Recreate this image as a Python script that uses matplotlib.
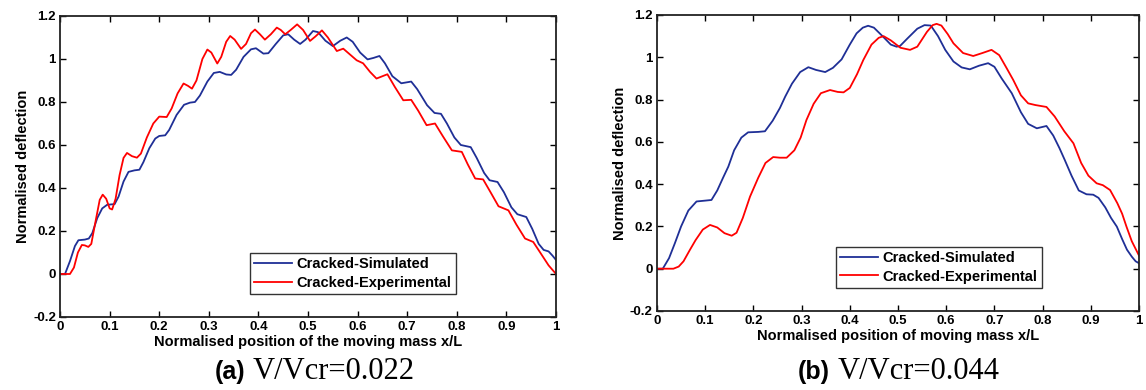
## Normalised deflection of a cracked beam under a moving mass
# Two panels: (a) V/Vcr=0.022 and (b) V/Vcr=0.044, simulated vs experimental

import matplotlib.pyplot as plt
from matplotlib.ticker import MultipleLocator, FuncFormatter

plt.rcParams['font.family'] = ['Liberation Sans', 'DejaVu Sans']

# Panel (a) V/Vcr=0.022
a_sim_x = [0.0, 0.01, 0.02, 0.03, 0.037, 0.05, 0.058, 0.065, 0.075, 0.085, 0.095, 0.11, 0.118, 0.128,
           0.138, 0.15, 0.16, 0.168, 0.18, 0.192, 0.2, 0.212, 0.22, 0.235, 0.25, 0.262, 0.272, 0.282,
           0.297, 0.31, 0.322, 0.335, 0.345, 0.355, 0.37, 0.385, 0.395, 0.41, 0.42, 0.435, 0.45, 0.46,
           0.472, 0.484, 0.495, 0.51, 0.52, 0.535, 0.55, 0.565, 0.578, 0.59, 0.605, 0.62, 0.632, 0.644,
           0.655, 0.67, 0.688, 0.708, 0.72, 0.74, 0.755, 0.768, 0.78, 0.795, 0.808, 0.828, 0.84, 0.855,
           0.866, 0.882, 0.895, 0.91, 0.922, 0.94, 0.952, 0.965, 0.975, 0.985, 0.993, 1.0]
a_sim_y = [0.0, 0.0, 0.06, 0.13, 0.157, 0.16, 0.165, 0.19, 0.26, 0.305, 0.322, 0.325, 0.36, 0.43,
           0.475, 0.482, 0.485, 0.52, 0.585, 0.63, 0.642, 0.645, 0.67, 0.74, 0.787, 0.797, 0.8, 0.83,
           0.895, 0.935, 0.94, 0.928, 0.926, 0.95, 1.01, 1.045, 1.05, 1.025, 1.027, 1.07, 1.11, 1.115,
           1.09, 1.07, 1.09, 1.13, 1.125, 1.085, 1.06, 1.085, 1.1, 1.08, 1.03, 0.998, 1.005, 1.014,
           0.98, 0.92, 0.887, 0.895, 0.86, 0.785, 0.749, 0.745, 0.7, 0.635, 0.6, 0.59, 0.54, 0.47,
           0.436, 0.428, 0.38, 0.31, 0.278, 0.265, 0.21, 0.14, 0.112, 0.105, 0.085, 0.065]

a_exp_x = [0.0, 0.02, 0.028, 0.036, 0.044, 0.05, 0.057, 0.063, 0.072, 0.08, 0.086, 0.093, 0.1, 0.105,
           0.112, 0.12, 0.128, 0.135, 0.145, 0.155, 0.163, 0.175, 0.188, 0.2, 0.215, 0.225, 0.237,
           0.249, 0.258, 0.266, 0.275, 0.287, 0.297, 0.305, 0.317, 0.325, 0.335, 0.343, 0.352, 0.365,
           0.375, 0.385, 0.393, 0.403, 0.413, 0.425, 0.437, 0.445, 0.454, 0.465, 0.478, 0.49, 0.504,
           0.515, 0.528, 0.54, 0.558, 0.571, 0.585, 0.598, 0.611, 0.625, 0.638, 0.66, 0.675, 0.692,
           0.708, 0.722, 0.739, 0.756, 0.772, 0.79, 0.81, 0.822, 0.837, 0.853, 0.868, 0.884, 0.904,
           0.92, 0.9375, 0.954, 0.968, 0.985, 1.0]
a_exp_y = [0.0, 0.0, 0.03, 0.1, 0.135, 0.133, 0.126, 0.14, 0.25, 0.345, 0.369, 0.35, 0.305, 0.3,
           0.35, 0.46, 0.54, 0.563, 0.548, 0.541, 0.56, 0.635, 0.7, 0.732, 0.73, 0.77, 0.84,
           0.886, 0.875, 0.862, 0.9, 1.0, 1.044, 1.03, 0.979, 1.01, 1.08, 1.107, 1.09, 1.047,
           1.07, 1.12, 1.137, 1.115, 1.09, 1.115, 1.146, 1.135, 1.115, 1.135, 1.161, 1.135, 1.084,
           1.105, 1.133, 1.1, 1.037, 1.048, 1.02, 0.994, 0.98, 0.94, 0.909, 0.929, 0.87, 0.808,
           0.81, 0.76, 0.692, 0.70, 0.64, 0.575, 0.568, 0.51, 0.444, 0.44, 0.38, 0.315, 0.296,
           0.23, 0.165, 0.149, 0.1, 0.04, 0.0]

# Panel (b) V/Vcr=0.044
b_sim_x = [0.0, 0.012, 0.025, 0.037, 0.05, 0.065, 0.082, 0.1, 0.113, 0.125, 0.137, 0.148, 0.16, 0.175,
           0.189, 0.21, 0.224, 0.24, 0.255, 0.266, 0.28, 0.297, 0.314, 0.33, 0.349, 0.365, 0.383, 0.4,
           0.414, 0.427, 0.438, 0.45, 0.47, 0.485, 0.497, 0.504, 0.52, 0.54, 0.555, 0.568, 0.583,
           0.598, 0.615, 0.632, 0.649, 0.668, 0.687, 0.70, 0.715, 0.736, 0.755, 0.77, 0.788, 0.808,
           0.822, 0.835, 0.846, 0.86, 0.875, 0.891, 0.905, 0.916, 0.93, 0.942, 0.954, 0.965, 0.975,
           0.985, 0.993, 1.0]
b_sim_y = [0.0, 0.0, 0.05, 0.12, 0.2, 0.275, 0.318, 0.322, 0.325, 0.37, 0.43, 0.483, 0.56, 0.62,
           0.645, 0.647, 0.65, 0.7, 0.76, 0.814, 0.875, 0.93, 0.953, 0.94, 0.93, 0.95, 0.99, 1.06,
           1.113, 1.14, 1.149, 1.14, 1.095, 1.06, 1.05, 1.053, 1.09, 1.135, 1.152, 1.15, 1.1,
           1.035, 0.98, 0.952, 0.943, 0.96, 0.972, 0.955, 0.9, 0.83, 0.74, 0.685, 0.664, 0.675,
           0.63, 0.57, 0.514, 0.44, 0.37, 0.352, 0.35, 0.335, 0.29, 0.24, 0.199, 0.14, 0.09,
           0.057, 0.035, 0.026]

b_exp_x = [0.0, 0.034, 0.045, 0.055, 0.068, 0.08, 0.095, 0.11, 0.125, 0.14, 0.155, 0.165, 0.178, 0.193,
           0.21, 0.225, 0.241, 0.255, 0.269, 0.285, 0.298, 0.31, 0.325, 0.34, 0.359, 0.375, 0.387,
           0.4, 0.415, 0.428, 0.445, 0.46, 0.47, 0.485, 0.505, 0.525, 0.54, 0.56, 0.572, 0.58, 0.59,
           0.603, 0.615, 0.635, 0.656, 0.675, 0.694, 0.71, 0.725, 0.739, 0.755, 0.77, 0.785, 0.808,
           0.825, 0.845, 0.864, 0.88, 0.895, 0.912, 0.925, 0.94, 0.955, 0.965, 0.974, 0.985, 1.0]
b_exp_y = [0.0, 0.0, 0.01, 0.035, 0.088, 0.135, 0.185, 0.207, 0.195, 0.168, 0.156, 0.17, 0.24, 0.341,
           0.43, 0.5, 0.528, 0.525, 0.525, 0.56, 0.62, 0.703, 0.78, 0.83, 0.845, 0.836, 0.834,
           0.855, 0.92, 0.987, 1.06, 1.092, 1.10, 1.08, 1.045, 1.035, 1.05, 1.12, 1.152, 1.158, 1.15,
           1.11, 1.066, 1.02, 1.006, 1.02, 1.035, 1.01, 0.95, 0.893, 0.82, 0.782, 0.774, 0.765,
           0.72, 0.65, 0.593, 0.5, 0.44, 0.404, 0.395, 0.372, 0.31, 0.26, 0.199, 0.13, 0.062]

SIM_COLOR = '#1f2f96'
EXP_COLOR = '#ff0000'
LABEL_FONT = dict(fontsize=10.5, fontweight='bold')

fig = plt.figure(figsize=(11.46, 3.9), dpi=100)
ax_a = fig.add_axes([0.0524, 0.1872, 0.4328, 0.7718])
ax_b = fig.add_axes([0.5733, 0.2026, 0.4206, 0.7590])

panels = [
    (ax_a, a_sim_x, a_sim_y, a_exp_x, a_exp_y, "Normalised position of the moving mass x/L", (0.383, 0.076)),
    (ax_b, b_sim_x, b_sim_y, b_exp_x, b_exp_y, "Normalised position of moving mass x/L", (0.371, 0.078)),
]

for ax, sx, sy, ex, ey, xlab, leg_pos in panels:
    ax.plot(sx, sy, color=SIM_COLOR, lw=1.3, label='Cracked-Simulated')
    ax.plot(ex, ey, color=EXP_COLOR, lw=1.3, label='Cracked-Experimental')

    # matlab-like box axes
    ax.set_xlim([0, 1])
    ax.set_ylim([-0.2, 1.2])
    ax.xaxis.set_major_locator(MultipleLocator(0.1))
    ax.yaxis.set_major_locator(MultipleLocator(0.2))
    fmt = FuncFormatter(lambda v, p: '%g' % round(v, 2))
    ax.xaxis.set_major_formatter(fmt)
    ax.yaxis.set_major_formatter(fmt)
    ax.tick_params(direction='in', length=4, width=1, top=True, right=True,
                   labelsize=9.5, pad=3)
    for lab in ax.get_xticklabels() + ax.get_yticklabels():
        lab.set_fontweight('bold')
    for sp in ax.spines.values():
        sp.set_linewidth(1.3)
        sp.set_color('#222222')

    ax.set_xlabel(xlab, labelpad=1, **LABEL_FONT)
    ax.set_ylabel("Normalised deflection", labelpad=2, **LABEL_FONT)

    leg = ax.legend(loc='lower left', bbox_to_anchor=leg_pos, borderaxespad=0,
                    fancybox=False, edgecolor='#333333', framealpha=1,
                    prop={'size': 10.5, 'weight': 'bold'}, handlelength=2.6,
                    handletextpad=0.3, borderpad=0.3, labelspacing=0.3)
    leg.get_frame().set_linewidth(1.0)

# captions under each panel
CAP_Y = 0.027
fig.text(0.1876, CAP_Y, "(a)", fontsize=18, fontweight='bold', va='baseline')
fig.text(0.2208, CAP_Y, "V/Vcr=0.022", fontsize=22, family='Liberation Serif', va='baseline')
fig.text(0.6963, CAP_Y, "(b)", fontsize=18, fontweight='bold', va='baseline')
fig.text(0.7310, CAP_Y, "V/Vcr=0.044", fontsize=22, family='Liberation Serif', va='baseline')

fig.savefig("out.png", dpi=100)
